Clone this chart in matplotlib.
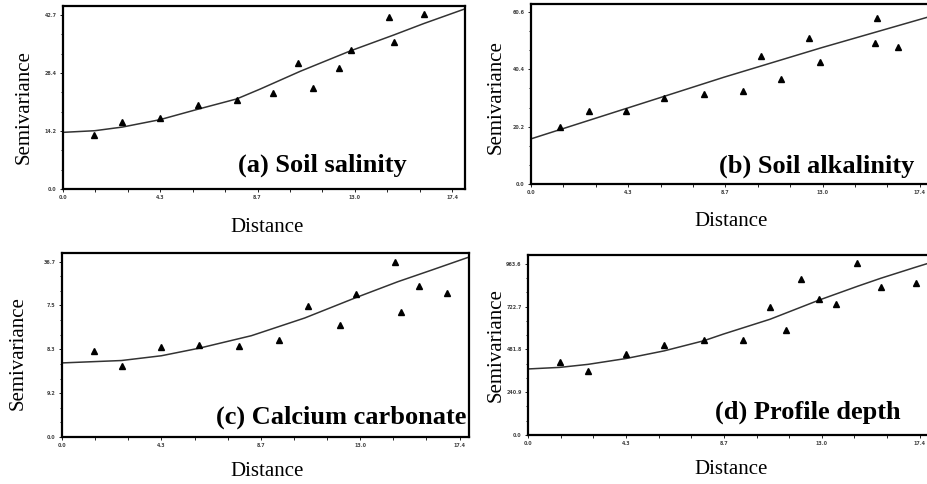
import matplotlib
matplotlib.use('Agg')
import matplotlib.pyplot as plt
import numpy as np

plt.rcParams['font.family'] = ['Liberation Serif', 'DejaVu Serif']

# observed semivariances (triangles)
a_lag = [1.40, 2.66, 4.33, 6.03, 7.78, 9.40, 10.52, 11.20, 12.34, 12.89, 14.59, 14.82, 16.16]
a_gam = [13.3, 16.4, 17.3, 20.6, 21.8, 23.5, 30.9, 24.9, 29.8, 34.1, 42.2, 36.0, 43.0]
b_lag = [1.30, 2.58, 4.25, 5.97, 7.74, 9.47, 10.30, 11.18, 12.42, 12.92, 15.49, 15.41, 16.41]
b_gam = [20.0, 25.6, 25.6, 30.4, 31.6, 32.9, 45.1, 36.9, 51.3, 43.0, 58.4, 49.6, 48.3]
c_lag = [1.39, 2.64, 4.32, 6.01, 7.75, 9.50, 10.75, 12.15, 12.86, 14.59, 14.85, 15.62, 16.83]
c_gam = [17.9, 14.9, 18.8, 19.2, 19.1, 20.4, 27.4, 23.5, 29.9, 36.6, 26.2, 31.5, 30.2]
d_lag = [1.41, 2.67, 4.36, 6.06, 7.80, 9.53, 10.76, 11.45, 12.13, 12.92, 13.70, 14.63, 15.68, 17.22]
d_gam = [411, 359, 456, 509, 535, 537, 721, 594, 881, 764, 740, 967, 832, 857]

# fitted model curves
a_fit_x = [0.0, 1.42, 2.66, 4.33, 6.05, 7.77, 8.81, 10.62, 12.86, 14.80, 16.14, 17.98]
a_fit_y = [13.9, 14.3, 15.2, 17.0, 19.6, 22.1, 24.5, 28.9, 33.9, 37.8, 40.6, 44.2]
b_fit_x = [0.0, 5.97, 8.63, 13.0, 17.9]
b_fit_y = [15.9, 30.9, 37.6, 48.0, 59.1]
c_fit_x = [0.0, 2.60, 4.35, 6.02, 8.29, 10.62, 12.88, 14.70, 16.16, 17.84]
c_fit_y = [15.5, 16.0, 17.0, 18.6, 21.2, 24.9, 29.2, 32.5, 34.9, 37.7]
d_fit_x = [0.0, 1.42, 2.67, 4.36, 6.05, 7.81, 8.69, 10.75, 12.95, 14.64, 15.67, 17.21, 17.9]
d_fit_y = [372, 381, 398, 431, 474, 531, 569, 652, 761, 838, 883, 945, 972]

x_ticks = [0.0, 4.35, 8.7, 13.05, 17.4]
x_labels = ['0.0', '4.3', '8.7', '13.0', '17.4']
a_yticks = [0.0, 14.23, 28.47, 42.7]
a_ylabels = ['0.0', '14.2', '28.4', '42.7']
b_yticks = [0.0, 20.2, 40.4, 60.6]
b_ylabels = ['0.0', '20.2', '40.4', '60.6']
c_yticks = [0.0, 9.18, 18.35, 27.53, 36.7]
c_ylabels = ['0.0', '9.2', '8.3', '7.5', '36.7']
d_yticks = [0.0, 240.9, 481.8, 722.7, 963.6]
d_ylabels = ['0.0', '240.9', '481.8', '722.7', '963.6']

W, H = 928, 484
fig = plt.figure(figsize=(W / 100, H / 100), dpi=100)


def make_ax(l, t, r, b):
    return fig.add_axes([l / W, 1 - b / H, (r - l) / W, (b - t) / H])


panels = [
    # box (px), xmax, ymax, data, ticks, title, title pos, xlabel pos, ylabel pos
    ((63, 6, 465, 189), 17.98, 44.9, a_lag, a_gam, a_fit_x, a_fit_y, a_yticks, a_ylabels,
     '(a) Soil salinity', (238, 165), (267, 227), (24, 107)),
    ((531, 4, 931, 184), 17.9, 63.4, b_lag, b_gam, b_fit_x, b_fit_y, b_yticks, b_ylabels,
     '(b) Soil alkalinity', (719, 166), (731, 221), (496, 97)),
    ((62, 253, 469, 437), 17.81, 38.5, c_lag, c_gam, c_fit_x, c_fit_y, c_yticks, c_ylabels,
     '(c) Calcium carbonate', (216, 417), (267, 472), (18, 353)),
    ((528, 255, 931, 435), 17.9, 1014, d_lag, d_gam, d_fit_x, d_fit_y, d_yticks, d_ylabels,
     '(d) Profile depth', (715, 412), (731, 469), (496, 345)),
]

for (box, xmax, ymax, lag, gam, fx, fy, yt, yl, title, tpos, xlpos, ylpos) in panels:
    ax = make_ax(*box)
    ax.plot(fx, fy, color='#333333', lw=1.1)
    ax.plot(lag, gam, '^', color='black', ms=5)
    ax.set_xlim(0, xmax)
    ax.set_ylim(0, ymax)
    ax.set_xticks(x_ticks)
    ax.set_xticklabels(x_labels)
    ax.set_xticks(np.arange(0, xmax, 1.45), minor=True)
    ax.set_yticks(yt)
    ax.set_yticklabels(yl)
    ax.set_yticks(np.arange(0, ymax, yt[1] / 3), minor=True)
    ax.tick_params(which='both', direction='out', length=2.5, width=0.6,
                   labelsize=3.5, labelcolor='#444444', pad=2)
    ax.tick_params(which='minor', length=1.8)
    for lbl in ax.get_xticklabels() + ax.get_yticklabels():
        lbl.set_family('DejaVu Sans')
        lbl.set_fontweight('bold')
    for s in ax.spines.values():
        s.set_linewidth(1.6)
    fig.text(tpos[0] / W, 1 - tpos[1] / H, title, fontsize=19, fontweight='bold',
             ha='left', va='center')
    fig.text(xlpos[0] / W, 1 - xlpos[1] / H, 'Distance', fontsize=15,
             ha='center', va='center')
    fig.text(ylpos[0] / W, 1 - ylpos[1] / H, 'Semivariance', fontsize=15,
             ha='center', va='center', rotation=90)

fig.savefig('out.png', dpi=100)
